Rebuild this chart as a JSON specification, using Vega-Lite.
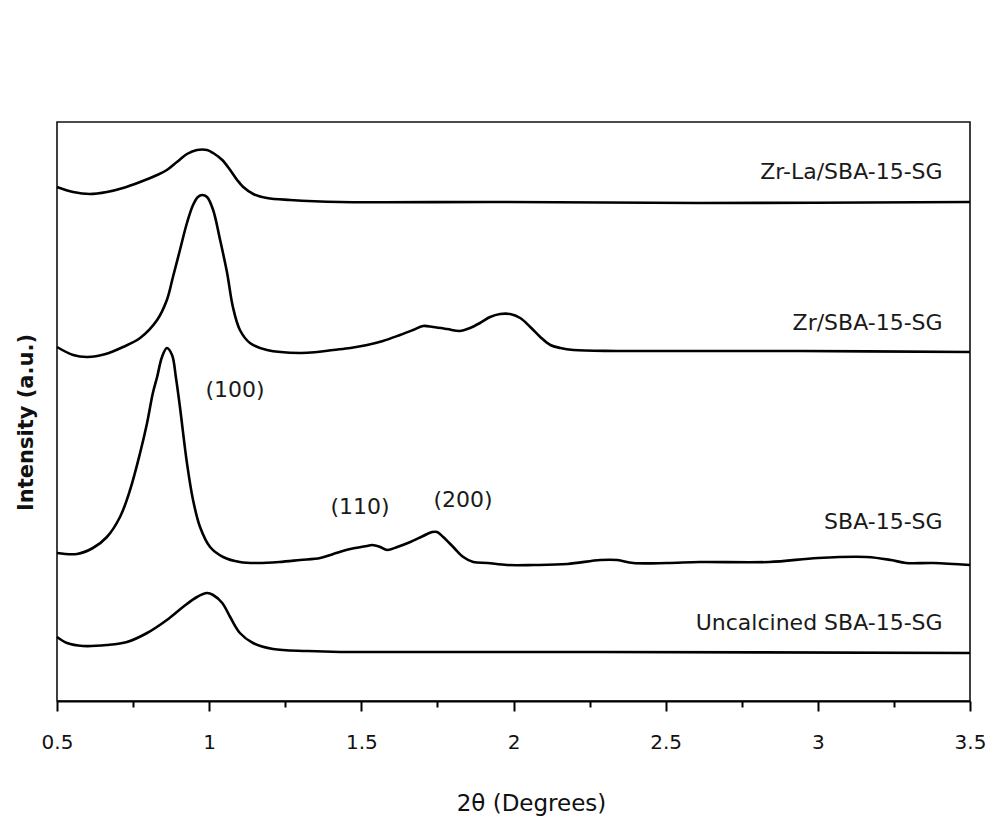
{
  "$schema": "https://vega.github.io/schema/vega-lite/v6.json",
  "autosize": "none",
  "width": 913,
  "height": 579,
  "padding": {"left": 57, "top": 122, "right": 19, "bottom": 119},
  "background": "white",
  "config": {
    "view": {"stroke": "#111", "strokeWidth": 1.6},
    "font": "DejaVu Sans"
  },
  "datasets": {
    "curves": [
      {"series": "Zr-La/SBA-15-SG", "x": 0.500, "y": 514},
      {"series": "Zr-La/SBA-15-SG", "x": 0.553, "y": 509},
      {"series": "Zr-La/SBA-15-SG", "x": 0.608, "y": 507},
      {"series": "Zr-La/SBA-15-SG", "x": 0.664, "y": 509},
      {"series": "Zr-La/SBA-15-SG", "x": 0.717, "y": 513},
      {"series": "Zr-La/SBA-15-SG", "x": 0.773, "y": 519},
      {"series": "Zr-La/SBA-15-SG", "x": 0.829, "y": 526},
      {"series": "Zr-La/SBA-15-SG", "x": 0.861, "y": 531},
      {"series": "Zr-La/SBA-15-SG", "x": 0.894, "y": 539},
      {"series": "Zr-La/SBA-15-SG", "x": 0.927, "y": 547},
      {"series": "Zr-La/SBA-15-SG", "x": 0.960, "y": 551},
      {"series": "Zr-La/SBA-15-SG", "x": 0.993, "y": 551},
      {"series": "Zr-La/SBA-15-SG", "x": 1.013, "y": 548},
      {"series": "Zr-La/SBA-15-SG", "x": 1.043, "y": 541},
      {"series": "Zr-La/SBA-15-SG", "x": 1.069, "y": 531},
      {"series": "Zr-La/SBA-15-SG", "x": 1.092, "y": 521},
      {"series": "Zr-La/SBA-15-SG", "x": 1.112, "y": 514},
      {"series": "Zr-La/SBA-15-SG", "x": 1.145, "y": 507},
      {"series": "Zr-La/SBA-15-SG", "x": 1.190, "y": 503},
      {"series": "Zr-La/SBA-15-SG", "x": 1.266, "y": 501},
      {"series": "Zr-La/SBA-15-SG", "x": 1.430, "y": 499},
      {"series": "Zr-La/SBA-15-SG", "x": 1.960, "y": 499},
      {"series": "Zr-La/SBA-15-SG", "x": 2.610, "y": 498},
      {"series": "Zr-La/SBA-15-SG", "x": 3.500, "y": 499},

      {"series": "Zr/SBA-15-SG", "x": 0.500, "y": 354},
      {"series": "Zr/SBA-15-SG", "x": 0.553, "y": 346},
      {"series": "Zr/SBA-15-SG", "x": 0.600, "y": 344},
      {"series": "Zr/SBA-15-SG", "x": 0.660, "y": 347},
      {"series": "Zr/SBA-15-SG", "x": 0.717, "y": 354},
      {"series": "Zr/SBA-15-SG", "x": 0.773, "y": 363},
      {"series": "Zr/SBA-15-SG", "x": 0.829, "y": 381},
      {"series": "Zr/SBA-15-SG", "x": 0.861, "y": 401},
      {"series": "Zr/SBA-15-SG", "x": 0.881, "y": 424},
      {"series": "Zr/SBA-15-SG", "x": 0.904, "y": 451},
      {"series": "Zr/SBA-15-SG", "x": 0.927, "y": 478},
      {"series": "Zr/SBA-15-SG", "x": 0.947, "y": 496},
      {"series": "Zr/SBA-15-SG", "x": 0.963, "y": 504},
      {"series": "Zr/SBA-15-SG", "x": 0.977, "y": 506},
      {"series": "Zr/SBA-15-SG", "x": 0.993, "y": 504},
      {"series": "Zr/SBA-15-SG", "x": 1.013, "y": 491},
      {"series": "Zr/SBA-15-SG", "x": 1.036, "y": 461},
      {"series": "Zr/SBA-15-SG", "x": 1.059, "y": 428},
      {"series": "Zr/SBA-15-SG", "x": 1.078, "y": 394},
      {"series": "Zr/SBA-15-SG", "x": 1.101, "y": 371},
      {"series": "Zr/SBA-15-SG", "x": 1.134, "y": 358},
      {"series": "Zr/SBA-15-SG", "x": 1.190, "y": 351},
      {"series": "Zr/SBA-15-SG", "x": 1.299, "y": 348},
      {"series": "Zr/SBA-15-SG", "x": 1.355, "y": 349},
      {"series": "Zr/SBA-15-SG", "x": 1.408, "y": 351},
      {"series": "Zr/SBA-15-SG", "x": 1.464, "y": 353},
      {"series": "Zr/SBA-15-SG", "x": 1.519, "y": 356},
      {"series": "Zr/SBA-15-SG", "x": 1.571, "y": 360},
      {"series": "Zr/SBA-15-SG", "x": 1.627, "y": 366},
      {"series": "Zr/SBA-15-SG", "x": 1.670, "y": 371},
      {"series": "Zr/SBA-15-SG", "x": 1.703, "y": 375},
      {"series": "Zr/SBA-15-SG", "x": 1.736, "y": 374},
      {"series": "Zr/SBA-15-SG", "x": 1.782, "y": 372},
      {"series": "Zr/SBA-15-SG", "x": 1.824, "y": 370},
      {"series": "Zr/SBA-15-SG", "x": 1.857, "y": 373},
      {"series": "Zr/SBA-15-SG", "x": 1.890, "y": 378},
      {"series": "Zr/SBA-15-SG", "x": 1.923, "y": 384},
      {"series": "Zr/SBA-15-SG", "x": 1.956, "y": 387},
      {"series": "Zr/SBA-15-SG", "x": 1.989, "y": 387},
      {"series": "Zr/SBA-15-SG", "x": 2.022, "y": 383},
      {"series": "Zr/SBA-15-SG", "x": 2.055, "y": 374},
      {"series": "Zr/SBA-15-SG", "x": 2.088, "y": 364},
      {"series": "Zr/SBA-15-SG", "x": 2.121, "y": 356},
      {"series": "Zr/SBA-15-SG", "x": 2.154, "y": 353},
      {"series": "Zr/SBA-15-SG", "x": 2.197, "y": 351},
      {"series": "Zr/SBA-15-SG", "x": 2.340, "y": 350},
      {"series": "Zr/SBA-15-SG", "x": 2.940, "y": 350},
      {"series": "Zr/SBA-15-SG", "x": 3.500, "y": 349},

      {"series": "SBA-15-SG", "x": 0.500, "y": 148},
      {"series": "SBA-15-SG", "x": 0.566, "y": 147},
      {"series": "SBA-15-SG", "x": 0.618, "y": 153},
      {"series": "SBA-15-SG", "x": 0.664, "y": 164},
      {"series": "SBA-15-SG", "x": 0.707, "y": 184},
      {"series": "SBA-15-SG", "x": 0.740, "y": 211},
      {"series": "SBA-15-SG", "x": 0.773, "y": 248},
      {"series": "SBA-15-SG", "x": 0.796, "y": 278},
      {"series": "SBA-15-SG", "x": 0.815, "y": 308},
      {"series": "SBA-15-SG", "x": 0.829, "y": 324},
      {"series": "SBA-15-SG", "x": 0.845, "y": 344},
      {"series": "SBA-15-SG", "x": 0.861, "y": 353},
      {"series": "SBA-15-SG", "x": 0.878, "y": 346},
      {"series": "SBA-15-SG", "x": 0.891, "y": 323},
      {"series": "SBA-15-SG", "x": 0.904, "y": 294},
      {"series": "SBA-15-SG", "x": 0.927, "y": 238},
      {"series": "SBA-15-SG", "x": 0.947, "y": 201},
      {"series": "SBA-15-SG", "x": 0.970, "y": 174},
      {"series": "SBA-15-SG", "x": 1.003, "y": 154},
      {"series": "SBA-15-SG", "x": 1.046, "y": 144},
      {"series": "SBA-15-SG", "x": 1.101, "y": 139},
      {"series": "SBA-15-SG", "x": 1.160, "y": 138},
      {"series": "SBA-15-SG", "x": 1.230, "y": 139},
      {"series": "SBA-15-SG", "x": 1.299, "y": 141},
      {"series": "SBA-15-SG", "x": 1.365, "y": 143},
      {"series": "SBA-15-SG", "x": 1.408, "y": 147},
      {"series": "SBA-15-SG", "x": 1.464, "y": 152},
      {"series": "SBA-15-SG", "x": 1.519, "y": 155},
      {"series": "SBA-15-SG", "x": 1.536, "y": 156},
      {"series": "SBA-15-SG", "x": 1.562, "y": 154},
      {"series": "SBA-15-SG", "x": 1.585, "y": 151},
      {"series": "SBA-15-SG", "x": 1.618, "y": 154},
      {"series": "SBA-15-SG", "x": 1.661, "y": 159},
      {"series": "SBA-15-SG", "x": 1.703, "y": 165},
      {"series": "SBA-15-SG", "x": 1.733, "y": 169},
      {"series": "SBA-15-SG", "x": 1.749, "y": 169},
      {"series": "SBA-15-SG", "x": 1.769, "y": 164},
      {"series": "SBA-15-SG", "x": 1.802, "y": 154},
      {"series": "SBA-15-SG", "x": 1.835, "y": 144},
      {"series": "SBA-15-SG", "x": 1.868, "y": 139},
      {"series": "SBA-15-SG", "x": 1.914, "y": 138},
      {"series": "SBA-15-SG", "x": 1.979, "y": 136},
      {"series": "SBA-15-SG", "x": 2.065, "y": 136},
      {"series": "SBA-15-SG", "x": 2.177, "y": 137},
      {"series": "SBA-15-SG", "x": 2.285, "y": 141},
      {"series": "SBA-15-SG", "x": 2.341, "y": 141},
      {"series": "SBA-15-SG", "x": 2.393, "y": 138},
      {"series": "SBA-15-SG", "x": 2.505, "y": 138},
      {"series": "SBA-15-SG", "x": 2.613, "y": 139},
      {"series": "SBA-15-SG", "x": 2.840, "y": 139},
      {"series": "SBA-15-SG", "x": 3.000, "y": 143},
      {"series": "SBA-15-SG", "x": 3.160, "y": 144},
      {"series": "SBA-15-SG", "x": 3.240, "y": 141},
      {"series": "SBA-15-SG", "x": 3.290, "y": 138},
      {"series": "SBA-15-SG", "x": 3.380, "y": 138},
      {"series": "SBA-15-SG", "x": 3.500, "y": 136},

      {"series": "Uncalcined SBA-15-SG", "x": 0.500, "y": 64},
      {"series": "Uncalcined SBA-15-SG", "x": 0.533, "y": 58},
      {"series": "Uncalcined SBA-15-SG", "x": 0.585, "y": 55},
      {"series": "Uncalcined SBA-15-SG", "x": 0.664, "y": 56},
      {"series": "Uncalcined SBA-15-SG", "x": 0.730, "y": 59},
      {"series": "Uncalcined SBA-15-SG", "x": 0.796, "y": 68},
      {"series": "Uncalcined SBA-15-SG", "x": 0.861, "y": 81},
      {"series": "Uncalcined SBA-15-SG", "x": 0.914, "y": 94},
      {"series": "Uncalcined SBA-15-SG", "x": 0.960, "y": 104},
      {"series": "Uncalcined SBA-15-SG", "x": 0.993, "y": 108},
      {"series": "Uncalcined SBA-15-SG", "x": 1.013, "y": 106},
      {"series": "Uncalcined SBA-15-SG", "x": 1.043, "y": 98},
      {"series": "Uncalcined SBA-15-SG", "x": 1.069, "y": 84},
      {"series": "Uncalcined SBA-15-SG", "x": 1.101, "y": 68},
      {"series": "Uncalcined SBA-15-SG", "x": 1.144, "y": 58},
      {"series": "Uncalcined SBA-15-SG", "x": 1.210, "y": 52},
      {"series": "Uncalcined SBA-15-SG", "x": 1.322, "y": 50},
      {"series": "Uncalcined SBA-15-SG", "x": 1.430, "y": 49},
      {"series": "Uncalcined SBA-15-SG", "x": 2.280, "y": 49},
      {"series": "Uncalcined SBA-15-SG", "x": 3.500, "y": 48}
    ],
    "labels": [
      {"text": "Zr-La/SBA-15-SG", "x": 3.41, "y": 529, "kind": "series"},
      {"text": "Zr/SBA-15-SG", "x": 3.41, "y": 378, "kind": "series"},
      {"text": "SBA-15-SG", "x": 3.41, "y": 179, "kind": "series"},
      {"text": "Uncalcined SBA-15-SG", "x": 3.41, "y": 78, "kind": "series"},
      {"text": "(100)", "x": 1.085, "y": 311, "kind": "peak"},
      {"text": "(110)", "x": 1.496, "y": 194, "kind": "peak"},
      {"text": "(200)", "x": 1.834, "y": 201, "kind": "peak"}
    ]
  },
  "layer": [
    {
      "data": {"name": "curves"},
      "mark": {"type": "line", "interpolate": "catmull-rom", "color": "#000", "strokeWidth": 2.6},
      "encoding": {
        "x": {
          "field": "x", "type": "quantitative",
          "scale": {"domain": [0.5, 3.5], "nice": false, "zero": false},
          "axis": {
            "orient": "bottom",
            "values": [0.5, 1, 1.5, 2, 2.5, 3, 3.5],
            "labelExpr": "datum.value",
            "grid": false,
            "domainColor": "#000", "domainWidth": 2,
            "tickColor": "#000", "tickWidth": 2, "tickSize": 10,
            "labelFont": "DejaVu Sans", "labelFontSize": 20, "labelColor": "#111",
            "labelPadding": 21,
            "labelFlush": false,
            "title": "2θ (Degrees)",
            "titleFont": "DejaVu Sans", "titleFontSize": 23, "titleFontWeight": "normal",
            "titleColor": "#111", "titlePadding": 40, "titleX": 474
          }
        },
        "y": {
          "field": "y", "type": "quantitative",
          "scale": {"domain": [0, 579], "nice": false, "zero": false},
          "axis": {
            "labels": false, "ticks": false, "domain": false, "grid": false,
            "title": "Intensity (a.u.)",
            "titleFont": "DejaVu Sans", "titleFontSize": 21, "titleFontWeight": "bold",
            "titleColor": "#111", "titlePadding": 21, "titleY": 300
          }
        },
        "detail": {"field": "series", "type": "nominal"}
      }
    },
    {
      "data": {"name": "labels"},
      "encoding": {
        "x": {
          "field": "x", "type": "quantitative",
          "axis": {
            "orient": "bottom",
            "values": [0.75, 1.25, 1.75, 2.25, 2.75, 3.25],
            "labels": false, "domain": false, "grid": false,
            "tickColor": "#000", "tickWidth": 2, "tickSize": 6,
            "title": null
          }
        },
        "y": {"field": "y", "type": "quantitative"},
        "text": {"field": "text"}
      },
      "layer": [
        {
          "transform": [{"filter": "datum.kind === 'series'"}],
          "mark": {"type": "text", "align": "right", "baseline": "middle", "font": "DejaVu Sans", "fontSize": 22, "color": "#1a1a1a"}
        },
        {
          "transform": [{"filter": "datum.kind === 'peak'"}],
          "mark": {"type": "text", "align": "center", "baseline": "middle", "font": "DejaVu Sans", "fontSize": 22, "color": "#1a1a1a"}
        }
      ]
    }
  ],
  "resolve": {"axis": {"x": "independent"}}
}
